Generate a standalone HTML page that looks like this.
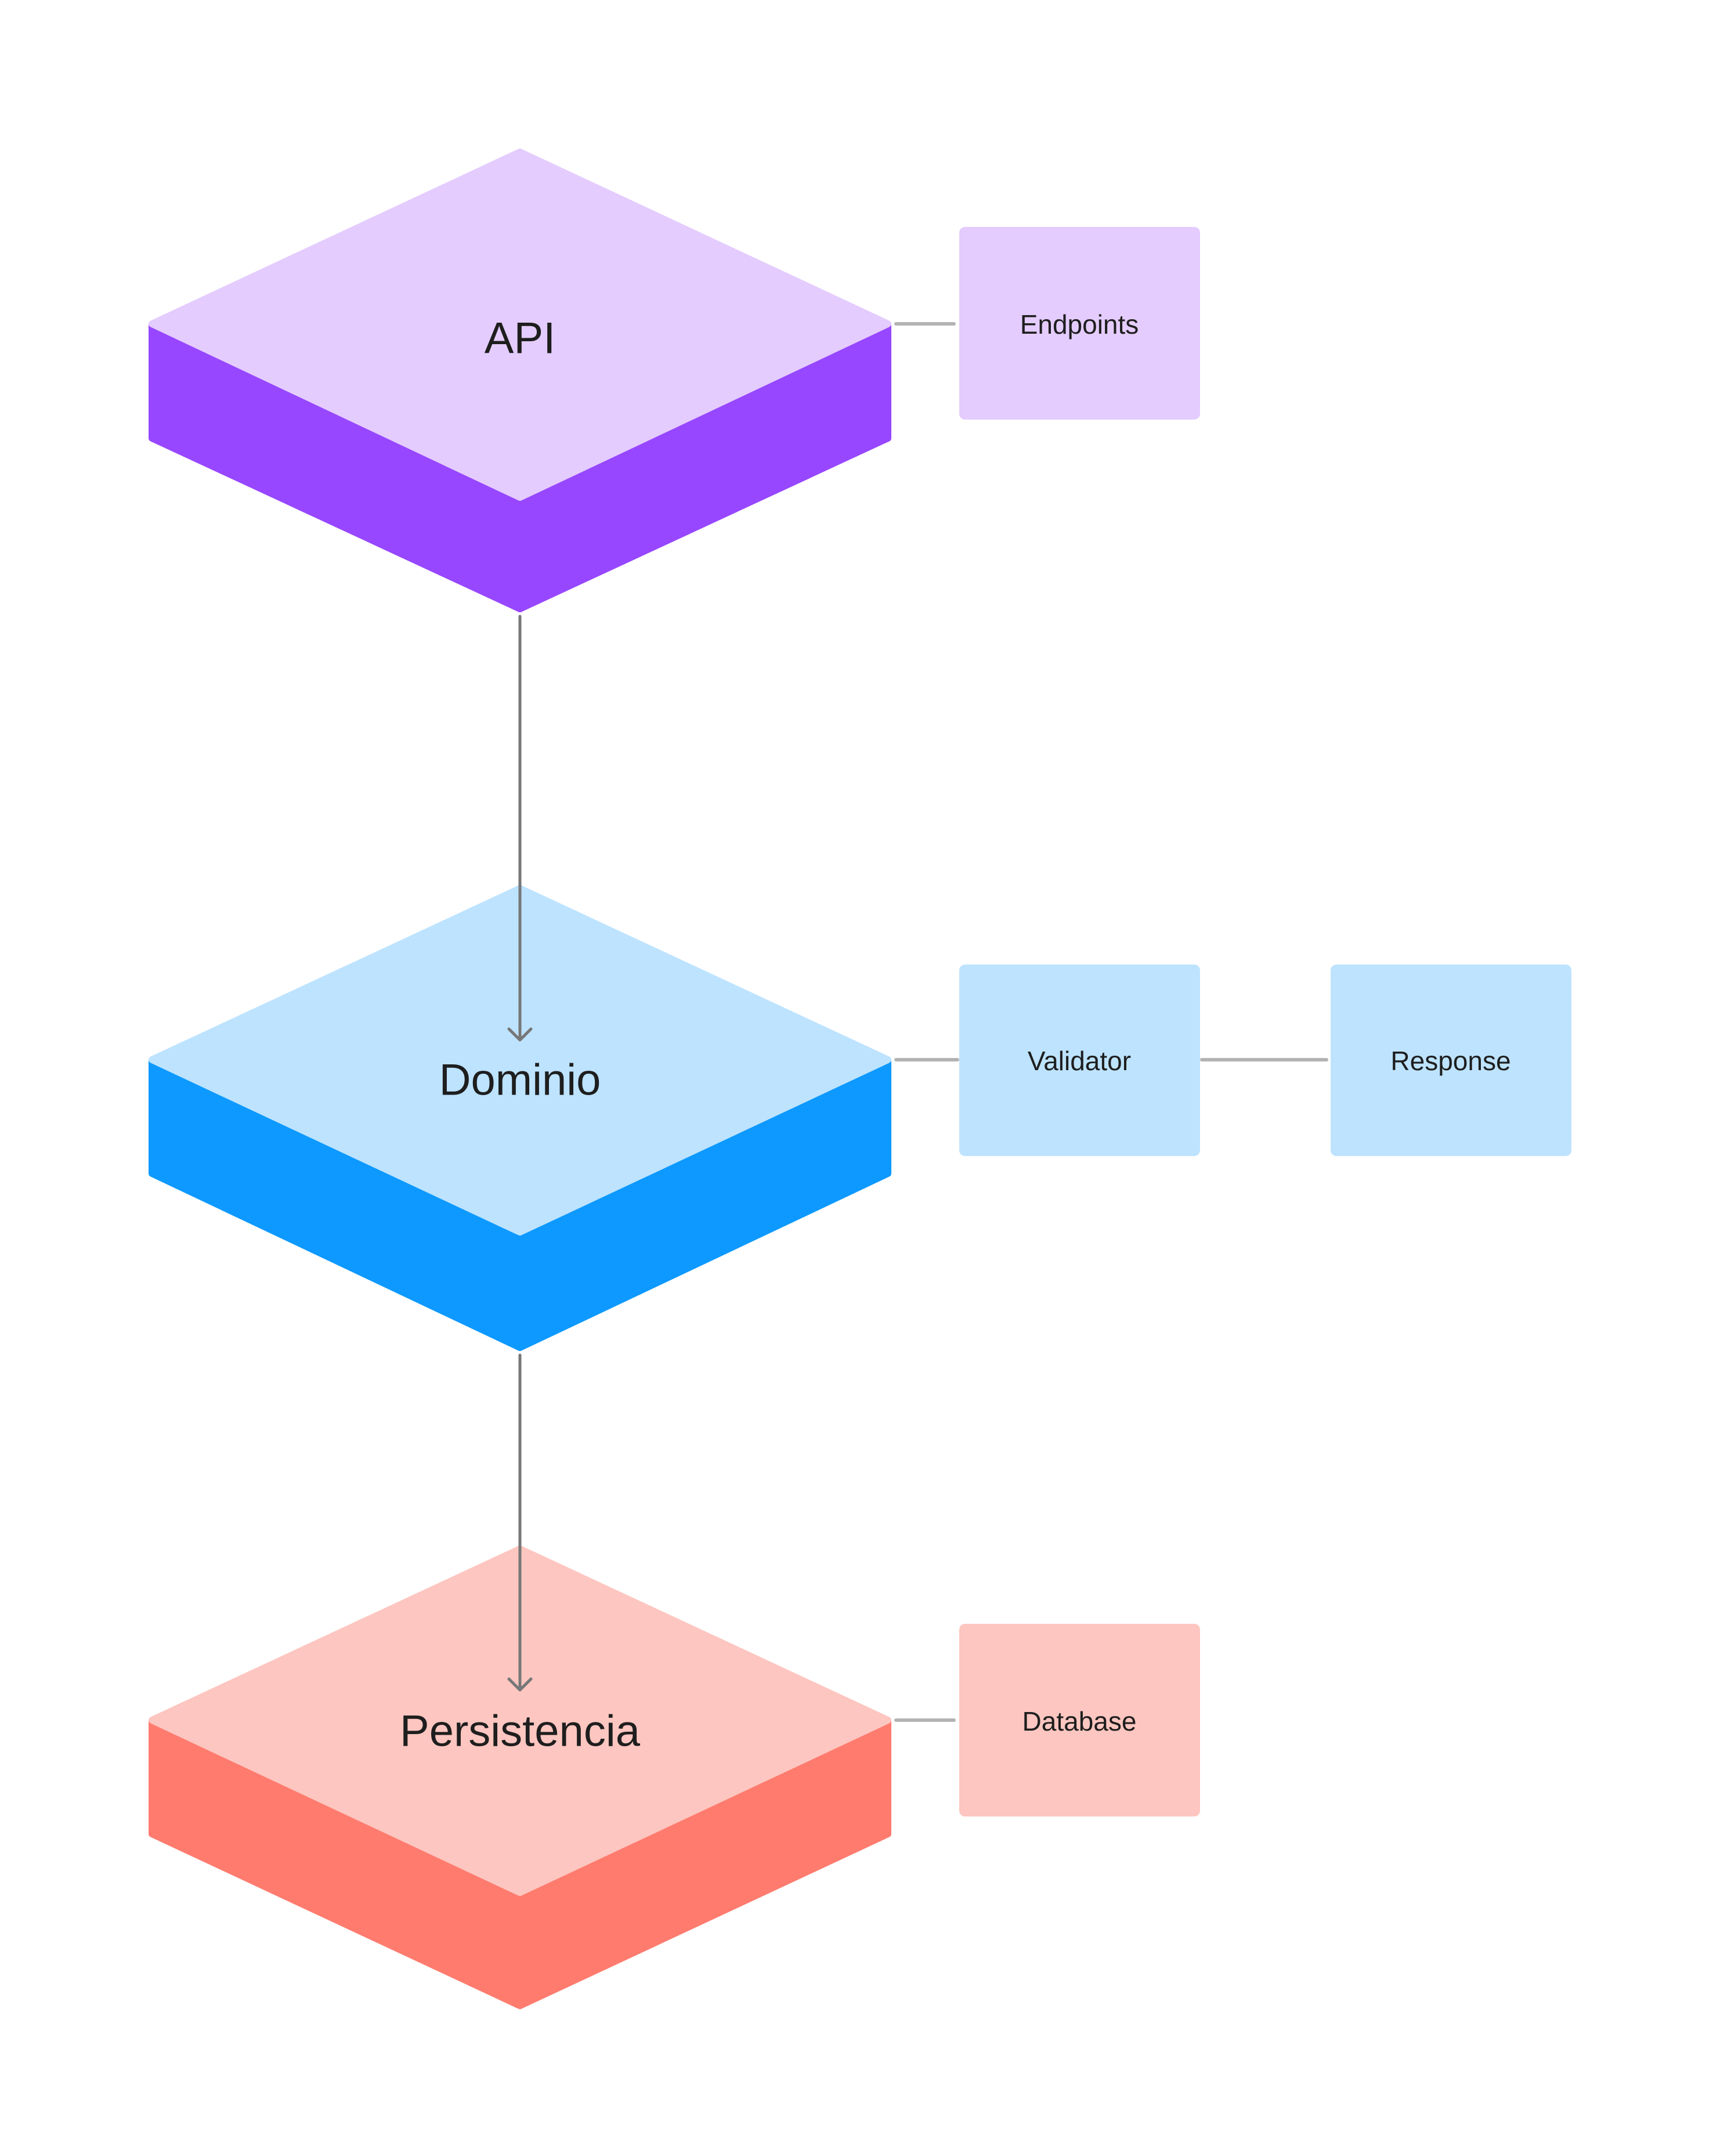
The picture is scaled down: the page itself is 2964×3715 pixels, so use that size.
<!DOCTYPE html>
<html><head><meta charset="utf-8"><style>
html,body{margin:0;padding:0;background:#fff;}
svg{display:block;}
text{font-family:"Liberation Sans",sans-serif;fill:#1e1e1e;text-anchor:middle;dominant-baseline:central;}
</style></head><body>
<svg width="2964" height="3715" viewBox="0 0 2964 3715" xmlns="http://www.w3.org/2000/svg">
<g stroke-linejoin="round" stroke-width="12">
<!-- API -->
<polygon points="262,560 896,860 1530,560 1530,755 896,1049 262,755" fill="#9747ff" stroke="#9747ff"/>
<polygon points="896,262 1530,558 896,857 262,558" fill="#e4ccfe" stroke="#e4ccfe"/>
<!-- Dominio -->
<polygon points="262,1828 896,2128 1530,1828 1530,2022 896,2322 262,2022" fill="#0d99ff" stroke="#0d99ff"/>
<polygon points="896,1531 1530,1826 896,2123 262,1826" fill="#bde3ff" stroke="#bde3ff"/>
<!-- Persistencia -->
<polygon points="262,2966 896,3266 1530,2966 1530,3160 896,3456 262,3160" fill="#ff7b6e" stroke="#ff7b6e"/>
<polygon points="896,2669 1530,2964 896,3261 262,2964" fill="#fdc6c0" stroke="#fdc6c0"/>
</g>
<!-- boxes -->
<rect x="1653" y="391" width="415" height="332" rx="10" fill="#e4ccfe"/>
<rect x="1653" y="1662" width="415" height="330" rx="10" fill="#bde3ff"/>
<rect x="2293" y="1662" width="415" height="330" rx="10" fill="#bde3ff"/>
<rect x="1653" y="2798" width="415" height="332" rx="10" fill="#fdc6c0"/>
<!-- connectors -->
<g stroke="#b3b3b3" stroke-width="6" stroke-linecap="round">
<line x1="1544" y1="558" x2="1644" y2="558"/>
<line x1="1544" y1="1826" x2="1650" y2="1826"/>
<line x1="2071" y1="1826" x2="2286" y2="1826"/>
<line x1="1544" y1="2964" x2="1644" y2="2964"/>
</g>
<g stroke="#777" stroke-width="5" stroke-linecap="round" stroke-linejoin="round" fill="none">
<line x1="896" y1="1062" x2="896" y2="1790"/>
<polyline points="877,1773 896,1792 915,1773"/>
<line x1="896" y1="2335" x2="896" y2="2910"/>
<polyline points="877,2893 896,2912 915,2893"/>
</g>
<text x="896" y="583" font-size="76">API</text>
<text x="896" y="1861" font-size="76">Dominio</text>
<text x="896" y="2983" font-size="76">Persistencia</text>
<text x="1860" y="559" font-size="46">Endpoints</text>
<text x="1860" y="1828" font-size="46">Validator</text>
<text x="2500" y="1828" font-size="46">Response</text>
<text x="1860" y="2966" font-size="46">Database</text>
</svg>
</body></html>
